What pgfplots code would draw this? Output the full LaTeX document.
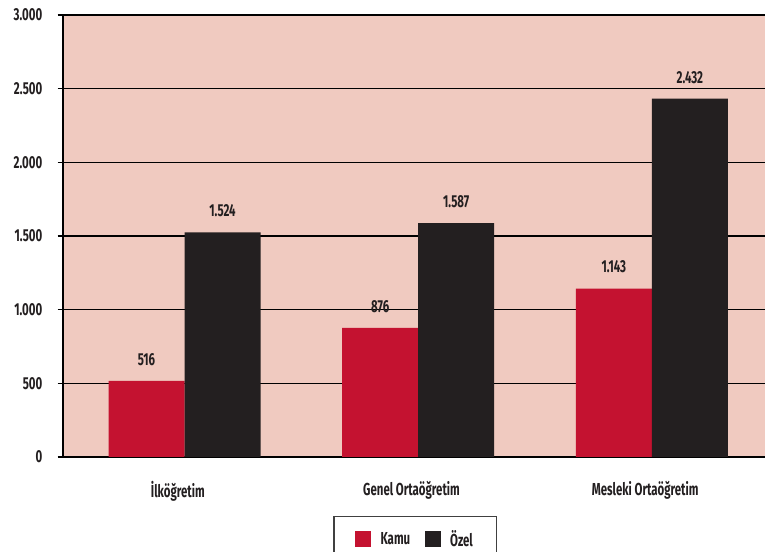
\documentclass[border=0pt]{standalone}
\usepackage{fontspec}
\setmainfont{Fira Sans}[FakeStretch=0.66]
\usepackage{pgfplots}
\pgfplotsset{compat=1.18}
\definecolor{bgpink}{HTML}{F0CAC0}
\definecolor{kamu}{HTML}{C41230}
\definecolor{ozel}{HTML}{231F20}
\newcommand{\lbl}{\fontsize{13}{15}\selectfont\bfseries}

\begin{document}
\begin{tikzpicture}[x=1pt,y=1pt]
\useasboundingbox (-47.25,-71.25) rectangle (526.5,342.75);
\begin{axis}[
  at={(0,0)}, anchor=south west,
  scale only axis, width=526.5pt, height=331.5pt,
  ybar=0pt, bar width=57pt,
  xmin=-0.52, xmax=2.484, ymin=0, ymax=3000,
  ytick={0,500,...,3000},
  xtick={0,1,2},
  xticklabels={İlköğretim, Genel Ortaöğretim, Mesleki Ortaöğretim},
  axis x line*=bottom, axis y line*=left,
  axis line style={black, line width=1pt, -},
  tick align=outside,
  major tick length=4pt,
  xtick style={draw=none},
  ytick style={black, line width=1pt},
  ymajorgrids, grid style={black, line width=0.9pt},
  axis background/.style={fill=bgpink},
  /pgf/number format/.cd, 1000 sep={.}, assume math mode=true,
  /pgfplots/.cd,
  ticklabel style={font=\lbl, text=ozel},
  yticklabel style={xshift=-8pt},
  xticklabel style={yshift=-11pt, xshift=-5pt},
  nodes near coords,
  nodes near coords style={font=\lbl, text=ozel, yshift=8pt},
  legend style={at={(0.502,-0.134)}, anchor=north, legend columns=2,
    draw=black!75, line width=0.9pt, font=\lbl, text=ozel,
    inner xsep=16pt, inner ysep=8pt,
    /tikz/every odd column/.append style={column sep=5pt},
    /tikz/every even column/.append style={column sep=9pt}},
  legend image code/.code={\fill[#1] (0pt,-6pt) rectangle (12pt,6pt);},
]
\addplot[fill=kamu, draw=none] coordinates {(0,516) (1,876) (2,1143)};
\addplot[fill=ozel, draw=none] coordinates {(0,1524) (1,1587) (2,2432)};
\legend{Kamu, Özel}
\end{axis}
\end{tikzpicture}
\end{document}
